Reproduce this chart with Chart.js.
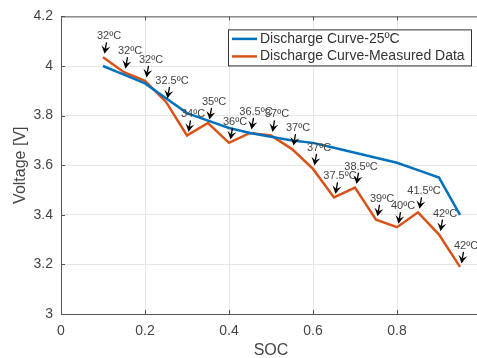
<!DOCTYPE html>
<html>
<head>
<meta charset="utf-8">
<script src="https://cdn.jsdelivr.net/npm/chart.js@4.4.1/dist/chart.umd.min.js"></script>
<style>
  html, body { margin: 0; padding: 0; background: #fff; overflow: hidden; }
  canvas { display: block; }
</style>
</head>
<body>
<canvas id="socChart" width="490" height="358"></canvas>
<script>
// data
const soc = [0.1, 0.15, 0.2, 0.25, 0.3, 0.35, 0.4, 0.45, 0.5, 0.55, 0.6, 0.65, 0.7, 0.75, 0.8, 0.85, 0.9, 0.95];
const refVoltage = [4.0, 3.965, 3.93, 3.87, 3.81, 3.78, 3.75, 3.73, 3.715, 3.70, 3.69, 3.67, 3.65, 3.63, 3.61, 3.58, 3.55, 3.40];
const measVoltage = [4.035, 3.975, 3.94, 3.855, 3.72, 3.77, 3.69, 3.73, 3.72, 3.665, 3.585, 3.47, 3.51, 3.38, 3.35, 3.41, 3.32, 3.19];
const tempLabels = ["32ºC", "32ºC", "32ºC", "32.5ºC", "34ºC", "35ºC", "36ºC", "36.5ºC", "37ºC", "37ºC", "37ºC", "37.5ºC", "38.5ºC", "39ºC", "40ºC", "41.5ºC", "42ºC", "42ºC"];
const seriesNames = ["Discharge Curve-25ºC", "Discharge Curve-Measured Data"];

const FONT = "'Liberation Sans', Arial, sans-serif";
const TEXT = "#454545";

// arrows + temperature labels on the measured curve
const tempArrows = {
  id: "tempArrows",
  afterDatasetsDraw(chart) {
    const ctx = chart.ctx;
    const meta = chart.getDatasetMeta(1);
    ctx.save();
    meta.data.forEach((pt, i) => {
      const x = pt.x, y = pt.y;
      const tail = { x: x + 3.5, y: y - 15 };
      const tip = { x: x + 1.5, y: y - 3.5 };
      const len = Math.hypot(tip.x - tail.x, tip.y - tail.y);
      const dx = (tip.x - tail.x) / len, dy = (tip.y - tail.y) / len;
      const nx = -dy, ny = dx;
      ctx.strokeStyle = "#000";
      ctx.lineWidth = 1.3;
      ctx.beginPath();
      ctx.moveTo(tail.x, tail.y);
      ctx.lineTo(tip.x - dx * 5, tip.y - dy * 5);
      ctx.stroke();
      ctx.fillStyle = "#000";
      ctx.beginPath();
      ctx.moveTo(tip.x, tip.y);
      ctx.quadraticCurveTo(tip.x - dx * 4 + nx * 2, tip.y - dy * 4 + ny * 2, tip.x - dx * 8 + nx * 4.5, tip.y - dy * 8 + ny * 4.5);
      ctx.lineTo(tip.x - dx * 5, tip.y - dy * 5);
      ctx.lineTo(tip.x - dx * 8 - nx * 4.5, tip.y - dy * 8 - ny * 4.5);
      ctx.quadraticCurveTo(tip.x - dx * 4 - nx * 2, tip.y - dy * 4 - ny * 2, tip.x, tip.y);
      ctx.closePath();
      ctx.fill();
      ctx.font = "11px " + FONT;
      ctx.fillStyle = TEXT;
      ctx.textAlign = "center";
      ctx.textBaseline = "middle";
      ctx.fillText(tempLabels[i], x + 6, y - 21);
    });
    ctx.restore();
  },
};

// box outline, inner tick marks and legend (MATLAB style)
const matlabBox = {
  id: "matlabBox",
  afterDraw(chart) {
    const ctx = chart.ctx;
    const a = chart.chartArea;
    const xs = chart.scales.x, ys = chart.scales.y;
    ctx.save();
    ctx.strokeStyle = "#555";
    ctx.lineWidth = 1;
    ctx.beginPath();
    ctx.moveTo(a.left, a.top + 0.5);
    ctx.lineTo(a.right, a.top + 0.5);
    ctx.stroke();
    ctx.beginPath();
    xs.ticks.forEach((t) => {
      const px = Math.round(xs.getPixelForValue(t.value)) + 0.5;
      ctx.moveTo(px, a.bottom);
      ctx.lineTo(px, a.bottom - 4);
      ctx.moveTo(px, a.top);
      ctx.lineTo(px, a.top + 4);
    });
    ys.ticks.forEach((t) => {
      const py = Math.round(ys.getPixelForValue(t.value)) + 0.5;
      ctx.moveTo(a.left, py);
      ctx.lineTo(a.left + 4, py);
    });
    ctx.stroke();

    // legend
    const bx = a.right - 253, by = a.top + 13, bw = 243, bh = 36;
    ctx.fillStyle = "#fff";
    ctx.fillRect(bx, by, bw, bh);
    ctx.strokeStyle = "#333";
    ctx.strokeRect(bx + 0.5, by + 0.5, bw, bh);
    chart.data.datasets.forEach((ds, i) => {
      const ly = by + 9.5 + i * 17.5;
      ctx.strokeStyle = ds.borderColor;
      ctx.lineWidth = 2.5;
      ctx.beginPath();
      ctx.moveTo(bx + 4, ly);
      ctx.lineTo(bx + 29, ly);
      ctx.stroke();
      ctx.font = "14px " + FONT;
      ctx.fillStyle = "#333";
      ctx.textAlign = "left";
      ctx.textBaseline = "middle";
      ctx.fillText(ds.label, bx + 32, ly);
    });
    ctx.restore();
  },
};

const fmt = (v) => String(Number(v.toFixed(1)));

new Chart(document.getElementById("socChart"), {
  type: "line",
  data: {
    datasets: [
      {
        label: seriesNames[0],
        data: soc.map((s, i) => ({ x: s, y: refVoltage[i] })),
        borderColor: "#0072BD",
        borderWidth: 2.5,
        pointRadius: 0,
        tension: 0,
      },
      {
        label: seriesNames[1],
        data: soc.map((s, i) => ({ x: s, y: measVoltage[i] })),
        borderColor: "#D95319",
        borderWidth: 2.5,
        pointRadius: 0,
        tension: 0,
      },
    ],
  },
  options: {
    responsive: false,
    animation: false,
    layout: { padding: { top: 16, right: 9, left: 0, bottom: 0 } },
    plugins: {
      legend: { display: false },
      tooltip: { enabled: false },
    },
    scales: {
      x: {
        type: "linear",
        min: 0,
        max: 1,
        afterFit: (s) => { s.height = 44; },
        ticks: {
          stepSize: 0.2,
          color: TEXT,
          padding: 9,
          maxRotation: 0,
          // the "1" label falls outside the cropped figure
          callback: (v) => (v >= 1 ? "" : fmt(v)),
          font: { family: FONT, size: 14 },
        },
        grid: { color: "#e6e6e6", drawTicks: false },
        border: { color: "#555", width: 1 },
        title: {
          display: true,
          text: "SOC",
          color: TEXT,
          font: { family: FONT, size: 16, lineHeight: 1 },
          padding: { top: 0, bottom: -1 },
        },
      },
      y: {
        min: 3,
        max: 4.2,
        afterFit: (s) => { s.width = 61; },
        ticks: {
          stepSize: 0.2,
          color: TEXT,
          padding: 8,
          callback: fmt,
          font: { family: FONT, size: 14 },
        },
        grid: { color: "#e6e6e6", drawTicks: false },
        border: { color: "#555", width: 1 },
        title: {
          display: true,
          text: "Voltage [V]",
          color: TEXT,
          font: { family: FONT, size: 16, lineHeight: 1 },
          padding: { top: 13, bottom: 0 },
        },
      },
    },
  },
  plugins: [tempArrows, matlabBox],
});
</script>
</body>
</html>
